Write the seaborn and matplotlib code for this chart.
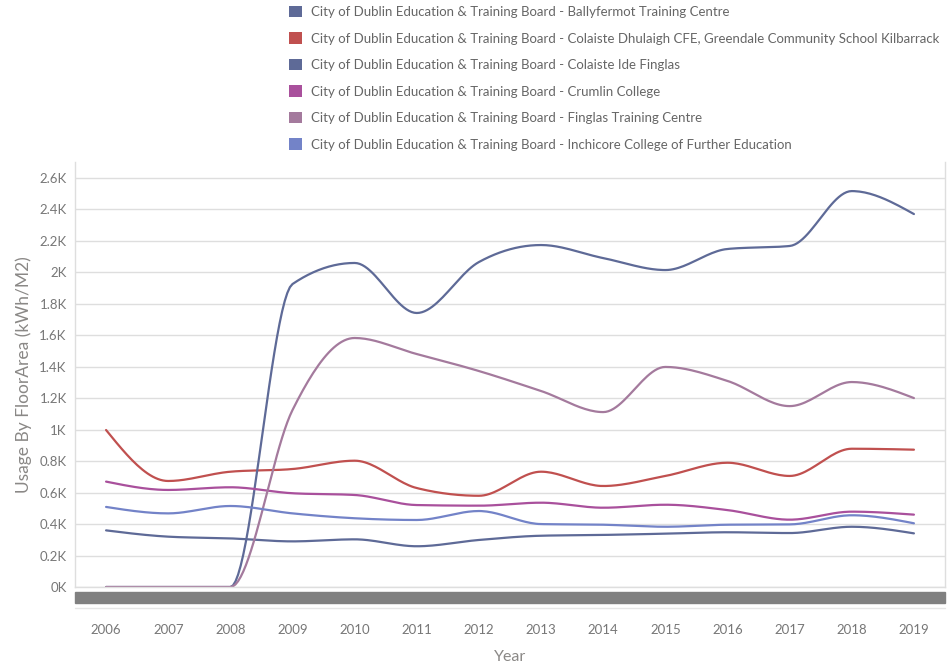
import matplotlib
matplotlib.use("Agg")
import matplotlib.pyplot as plt
from matplotlib.patches import Rectangle, Patch
from matplotlib.lines import Line2D
from matplotlib.ticker import FuncFormatter
import seaborn as sns
import pandas as pd
import numpy as np

# ---- data (kWh/M2 per year) ----
years = [2006, 2007, 2008, 2009, 2010, 2011, 2012, 2013, 2014, 2015, 2016, 2017, 2018, 2019]
prefix = "City of Dublin Education & Training Board - "
series_names = [
    "Ballyfermot Training Centre",
    "Colaiste Dhulaigh CFE, Greendale Community School Kilbarrack",
    "Colaiste Ide Finglas",
    "Crumlin College",
    "Finglas Training Centre",
    "Inchicore College of Further Education",
]
ballyfermot = [360, 320, 309, 290, 303, 259, 299, 326, 331, 339, 348, 343, 383, 341]
dhulaigh = [998, 674, 733, 750, 803, 629, 580, 733, 642, 706, 790, 706, 879, 873]
colaiste_ide = [0, 0, 0, 1926, 2060, 1742, 2066, 2174, 2091, 2015, 2149, 2168, 2517, 2371]
crumlin = [670, 617, 634, 596, 585, 521, 517, 536, 504, 523, 489, 428, 479, 460]
finglas = [0, 0, 0, 1125, 1583, 1481, 1373, 1246, 1112, 1399, 1310, 1150, 1303, 1201]
inchicore = [509, 468, 515, 468, 437, 426, 483, 400, 396, 383, 396, 398, 456, 405]
colors = ["#5e6a97", "#c0504f", "#5e6a97", "#a9509c", "#a47a9d", "#7383c8"]

values = [ballyfermot, dhulaigh, colaiste_ide, crumlin, finglas, inchicore]


def monotone_curve(x, y, n=24):
    # smooth line like a monotone-x spline through the yearly points
    x = np.asarray(x, float)
    y = np.asarray(y, float)
    h = np.diff(x)
    d = np.diff(y) / h
    m = np.zeros_like(y)
    for i in range(1, len(x) - 1):
        s0, s1 = d[i - 1], d[i]
        p = (s0 * h[i] + s1 * h[i - 1]) / (h[i - 1] + h[i])
        m[i] = (np.sign(s0) + np.sign(s1)) * min(abs(s0), abs(s1), 0.5 * abs(p))
    m[0] = (3 * d[0] - m[1]) / 2
    m[-1] = (3 * d[-1] - m[-2]) / 2
    xs, ys = [], []
    for i in range(len(x) - 1):
        t = np.linspace(0, 1, n, endpoint=False)
        h00 = 2 * t**3 - 3 * t**2 + 1
        h10 = t**3 - 2 * t**2 + t
        h01 = -2 * t**3 + 3 * t**2
        h11 = t**3 - t**2
        xs.append(x[i] + t * h[i])
        ys.append(h00 * y[i] + h10 * h[i] * m[i] + h01 * y[i + 1] + h11 * h[i] * m[i + 1])
    xs.append([x[-1]])
    ys.append([y[-1]])
    return np.concatenate(xs), np.concatenate(ys)


frames = []
for name, vals in zip(series_names, values):
    sx, sy = monotone_curve(years, vals)
    frames.append(pd.DataFrame({"Year": sx, "Usage": sy, "Series": name}))
df = pd.concat(frames, ignore_index=True)

sns.set_theme(style="white")
plt.rcParams["font.family"] = ["Lato", "DejaVu Sans"]

fig = plt.figure(figsize=(9.51, 6.64), dpi=100)
ax = fig.add_axes([75 / 951, 1 - 587 / 664, 870 / 951, (587 - 162.3) / 664])

sns.lineplot(data=df, x="Year", y="Usage", hue="Series", palette=dict(zip(series_names, colors)),
             hue_order=series_names, sort=False, estimator=None, legend=False, linewidth=1.6, ax=ax)

ax.set_xlim(2005.5, 2019.5)
ax.set_ylim(0, 2700)
ax.set_yticks(np.arange(0, 2601, 200))
ax.yaxis.set_major_formatter(FuncFormatter(lambda v, p: f"{v / 1000:g}K"))
ax.set_xticks(years)
ax.set_xticklabels([str(y) for y in years])
ax.grid(axis="y", color="#dedede", linewidth=1)
ax.grid(axis="x", visible=False)
for side in ["left", "right", "bottom"]:
    ax.spines[side].set_color("#dedede")
    ax.spines[side].set_linewidth(1)
ax.spines["top"].set_visible(False)
ax.tick_params(axis="y", length=0, pad=6, labelsize=9.5, labelcolor="#777777")
ax.tick_params(axis="x", length=0, pad=27, labelsize=9.5, labelcolor="#777777")
ax.set_xlabel("Year", fontsize=11.5, color="#8a8886", labelpad=10)
ax.set_ylabel("Usage By FloorArea (kWh/M2)", fontsize=12.5, color="#8a8886", labelpad=5)

# scrollbar strip under the plot area
fig.patches.append(Rectangle((75 / 951, 1 - 603 / 664), 870 / 951, 11 / 664,
                             transform=fig.transFigure, color="#808080", zorder=0))
fig.add_artist(Line2D([75 / 951, 945 / 951], [1 - 608 / 664] * 2, color="#e6e6e6", linewidth=1))

handles = [Patch(facecolor=c, edgecolor="none") for c in colors]
labels = [prefix + n for n in series_names]
fig.legend(handles, labels, loc="upper left", bbox_to_anchor=(287 / 951, 1 - 4 / 664), frameon=False,
           fontsize=9.5, labelcolor="#666666", handlelength=0.95, handleheight=0.95,
           handletextpad=0.75, labelspacing=1.08, borderaxespad=0.0, borderpad=0.15)

fig.savefig("out.png", dpi=100)
